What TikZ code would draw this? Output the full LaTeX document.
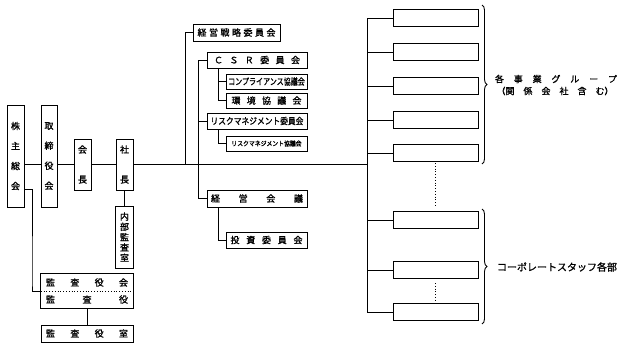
\documentclass[tikz,border=0pt]{standalone}
\usepackage{fontspec}
\setmainfont{Noto Sans CJK JP}[FakeBold=1.3]
\usetikzlibrary{decorations.pathreplacing}
\newcommand\spr[2]{\hbox to #1{#2}}
\newcommand\hf{\hfill}
\begin{document}
\begin{tikzpicture}[x=1pt,y=-1pt,
  box/.style={draw,line width=1pt,inner sep=0pt,align=center,font=\fontsize{9}{10.3}\selectfont},
  plain/.style={inner sep=0pt,align=center,font=\fontsize{9}{10.3}\selectfont},
  ln/.style={line width=0.9pt},
  dots/.style={line width=0.8pt,dotted},
  brc/.style={line width=0.9pt,decorate,decoration={brace,amplitude=5pt}}]
\useasboundingbox (0,0) rectangle (624,348);
% left column
\node[box,minimum width=17pt,minimum height=102pt] (kabu) at (15.5,156) {株\\[9.7pt]主\\[9.7pt]総\\[9.7pt]会};
\node[box,minimum width=16pt,minimum height=102pt] (tori) at (49,156) {取\\[9.7pt]締\\[9.7pt]役\\[9.7pt]会};
\node[box,minimum width=17pt,minimum height=51pt] (kaicho) at (82.5,164.5) {会\\[19.7pt]長};
\node[box,minimum width=17pt,minimum height=51pt] (shacho) at (124.5,164.5) {社\\[19.7pt]長};
\node[box,minimum width=18pt,minimum height=62pt] (naibu) at (124.5,237) {内\\部\\監\\査\\室};
\node[plain,minimum width=92pt,minimum height=17pt] (kansakai) at (87,282.5) {\spr{82pt}{監\hf 査\hf 役\hf 会}};
\node[plain,minimum width=92pt,minimum height=17pt] (kansayaku) at (87,299.5) {\spr{82pt}{監\hf 査\hf 役}};
\draw[line width=1pt] (kansakai.north west) rectangle (kansayaku.south east);
\draw[dots] (kansakai.south west) -- (kansakai.south east);
\node[box,minimum width=92pt,minimum height=17pt] (kansashitsu) at (87,333.5) {\spr{82pt}{監\hf 査\hf 役\hf 室}};
% middle column
\node[box,minimum width=87pt,minimum height=17pt] (senryaku) at (236.5,32.5) {\spr{78pt}{経\hf 営\hf 戦\hf 略\hf 委\hf 員\hf 会}};
\node[box,minimum width=100pt,minimum height=16pt] (csr) at (257,60) {\spr{86pt}{Ｃ\hf Ｓ\hf Ｒ\hf 委\hf 員\hf 会}};
\node[box,minimum width=81pt,minimum height=15pt] (comp) at (266.5,81.5) {\scalebox{0.78}[1]{コンプライアンス協議会}};
\node[box,minimum width=81pt,minimum height=15pt] (kankyo) at (266.5,100.5) {\spr{70pt}{環\hf 境\hf 協\hf 議\hf 会}};
\node[box,minimum width=100pt,minimum height=16pt] (riskiin) at (257,121) {\scalebox{0.86}[1]{リスクマネジメント委員会}};
\node[box,minimum width=81pt,minimum height=15pt,font=\fontsize{6.5}{7}\selectfont] (riskkyo) at (266.5,143.5) {\scalebox{0.9}[1]{リスクマネジメント協議会}};
\node[box,minimum width=100pt,minimum height=17pt] (keiei) at (257,198.5) {\spr{92pt}{経\hf 営\hf 会\hf 議}};
\node[box,minimum width=81pt,minimum height=16pt] (toshi) at (266.5,240) {\spr{72pt}{投\hf 資\hf 委\hf 員\hf 会}};
% right column
\foreach \n/\yy in {r1/18,r2/52,r3/86,r4/120,r5/153,r6/220,r7/270,r8/312}
  \node[box,minimum width=85pt,minimum height=17pt] (\n) at (435.5,\yy) {};
\coordinate (spine top) at (367,18);
\coordinate (spine bot) at (367,312);
\coordinate (spine mid) at (367,164.5);
% connectors left
\draw[ln] (kabu.east |- shacho.west) -- (tori.west |- shacho.west);
\draw[ln] (tori.east |- shacho.west) -- (kaicho.west);
\draw[ln] (kaicho.east) -- (shacho.west);
\draw[ln] (shacho.east) -- (spine mid);
\draw[ln] (shacho.south) -- (naibu.north);
\draw[ln] (kabu.east |- 0,189) -| (32,282) |- (kansakai.south west);
\draw[ln] (kansayaku.south) -- (kansashitsu.north);
% connectors middle
\draw[ln] (senryaku.west) -| (185,164.5);
\draw[ln] (csr.west) -| (198.5,198.5) -- (keiei.west);
\draw[ln] (198.5,121) -- (riskiin.west);
\draw[ln] (218.5,68) |- (kankyo.west);
\draw[ln] (218.5,81.5) -- (comp.west);
\draw[ln] (218.5,129) |- (riskkyo.west);
\draw[ln] (218.5,207) |- (toshi.west);
% connectors right
\draw[ln] (spine top) -- (spine bot);
\foreach \n in {r1,r2,r3,r4,r5,r6,r7,r8}
  \draw[ln] (spine top |- \n.west) -- (\n.west);
\draw[dots] (435,163) -- (435,207);
\draw[dots] (435,283) -- (435,300);
% braces and labels
\draw[brc] (482,5) -- (482,164);
\draw[brc] (482,209) -- (482,324);
\node[plain] (grp1) at (556,79) {\spr{122pt}{各\hf 事\hf 業\hf グ\hf ル\hf ー\hf プ}};
\node[plain] (grp2) at (555,91) {\spr{117pt}{（関\hf 係\hf 会\hf 社\hf 含\hf む）}};
\node[plain,font=\fontsize{10}{11}\selectfont] (staff) at (557,267) {コーポレートスタッフ各部};
\end{tikzpicture}
\end{document}
